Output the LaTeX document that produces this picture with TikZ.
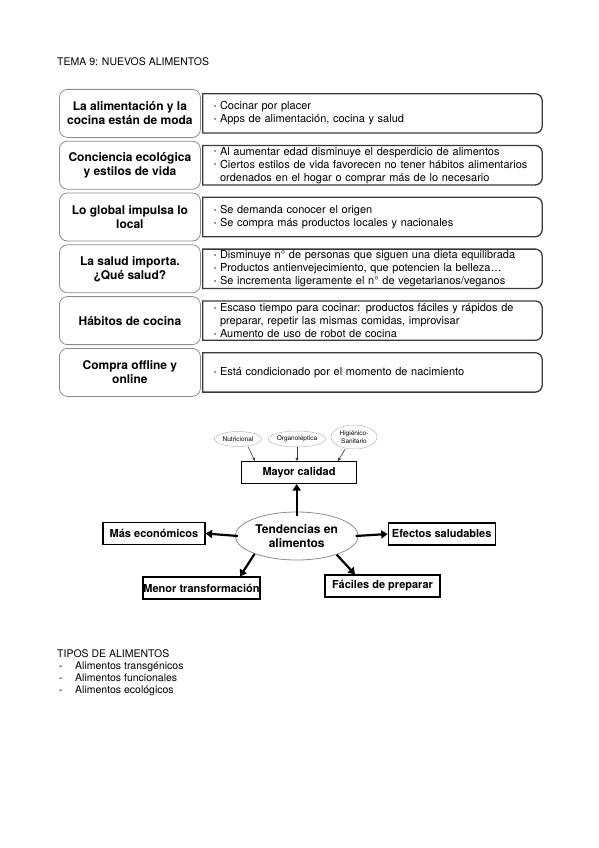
\documentclass[tikz,border=0pt]{standalone}
\usepackage{fontspec}
\setmainfont{TeX Gyre Heros}
\usepackage{xcolor}
\usepackage{tikz}
\usetikzlibrary{arrows.meta, positioning, shapes.geometric}

\definecolor{rowgray}{HTML}{8C8C8C}
\definecolor{rowdark}{HTML}{3A3A3A}
\definecolor{ovalgray}{HTML}{B8B8B8}

% small bullet and hanging indent for the detail lists
\newcommand{\itm}{\makebox[6pt][l]{\raisebox{0.2ex}{\fontsize{6}{6}\selectfont\textbullet}}}
\newcommand{\cont}{\hspace*{6pt}}
% detail frame: square on the left, rounded on the right
\newcommand{\detailframe}[1]{%
  \draw[frame] (#1.north west) -- ([xshift=-7pt]#1.north east)
    arc[start angle=90, end angle=0, radius=7pt] -- ([yshift=7pt]#1.south east)
    arc[start angle=0, end angle=-90, radius=7pt] -- (#1.south west) -- cycle;}

\begin{document}
\begin{tikzpicture}[
    x=1pt, y=-1pt,
    every node/.style={color=black, inner sep=0pt},
    plain/.style={font=\fontsize{10.5}{12}\selectfont, align=left},
    topic/.style={draw=rowgray, rectangle, rounded corners=8pt, fill=white, line width=0.8pt,
                  minimum width=141pt, minimum height=48pt, align=center,
                  font=\fontsize{12}{14}\selectfont\bfseries},
    detail/.style={rectangle, minimum height=39pt, text width=317pt, inner xsep=11pt,
                   align=left, font=\fontsize{11}{13}\selectfont},
    frame/.style={draw=rowdark, line width=1.3pt},
    hub/.style={draw=rowgray, ellipse, line width=0.8pt, minimum width=123pt, minimum height=48pt,
                align=center, font=\fontsize{12}{13.5}\selectfont\bfseries},
    trend/.style={draw, rectangle, line width=1.1pt, minimum height=22pt,
                  font=\fontsize{11}{13}\selectfont\bfseries},
    aspect/.style={draw=ovalgray, ellipse, line width=0.5pt, align=center,
                   font=\fontsize{6.5}{7.5}\selectfont},
    bigarrow/.style={-{Triangle[length=6.5pt, width=8pt]}, line width=2.2pt},
    smallarrow/.style={-{Triangle[length=3pt, width=3pt]}, line width=0.6pt, color=rowdark}
]
\useasboundingbox (0,0) rectangle (599,848);

% --- Header ---
\node[plain, anchor=west] (tema) at (57,62) {TEMA 9: NUEVOS ALIMENTOS};

% --- Table of trends (left topic, right details) ---
\node[topic, anchor=north west] (moda) at (59,89) {La alimentación y la\\cocina están de moda};
\node[topic, below=3pt of moda] (eco) {Conciencia ecológica\\y estilos de vida};
\node[topic, below=3pt of eco] (local) {Lo global impulsa lo\\local};
\node[topic, below=3pt of local] (salud) {La salud importa.\\¿Qué salud?};
\node[topic, below=3pt of salud] (habitos) {Hábitos de cocina};
\node[topic, below=3pt of habitos] (compra) {Compra offline y\\online};

\node[detail, right=2pt of moda] (modaD)
    {\itm Cocinar por placer\\\itm Apps de alimentación, cocina y salud};
\node[detail, right=2pt of eco] (ecoD)
    {\itm Al aumentar edad disminuye el desperdicio de alimentos\\
     \itm Ciertos estilos de vida favorecen no tener hábitos alimentarios\\
     \cont ordenados en el hogar o comprar más de lo necesario};
\node[detail, right=2pt of local] (localD)
    {\itm Se demanda conocer el origen\\\itm Se compra más productos locales y nacionales};
\node[detail, right=2pt of salud] (saludD)
    {\itm Disminuye n° de personas que siguen una dieta equilibrada\\
     \itm Productos antienvejecimiento, que potencien la belleza…\\
     \itm Se incrementa ligeramente el n° de vegetarianos/veganos};
\node[detail, right=2pt of habitos] (habitosD)
    {\itm Escaso tiempo para cocinar: productos fáciles y rápidos de\\
     \cont preparar, repetir las mismas comidas, improvisar\\
     \itm Aumento de uso de robot de cocina};
\node[detail, right=2pt of compra] (compraD)
    {\itm Está condicionado por el momento de nacimiento};

\detailframe{modaD}
\detailframe{ecoD}
\detailframe{localD}
\detailframe{saludD}
\detailframe{habitosD}
\detailframe{compraD}

% --- Trends map ---
\node[hub] (tend) at (296.7,536) {Tendencias en\\alimentos};
\node[trend, minimum width=115pt] (calidad) at (299,472.5) {Mayor calidad};
\node[trend, minimum width=102pt] (econ) at (154,533.5) {Más económicos};
\node[trend, minimum width=107pt] (efect) at (441.7,534) {Efectos saludables};
\node[trend, minimum width=117pt] (menor) at (201.5,588) {Menor transformación};
\node[trend, minimum width=115pt] (facil) at (382.5,586) {Fáciles de preparar};

% quality aspects
\node[aspect, minimum width=47pt, minimum height=15pt] (nutri) at (238,439) {Nutricional};
\node[aspect, minimum width=54pt, minimum height=16pt] (organo) at (297,439) {Organoléptica};
\node[aspect, minimum width=46pt, minimum height=24pt] (higien) at (354,437) {Higiénico-\\Sanitario};

\draw[smallarrow] ([xshift=10pt]nutri.south) -- ([xshift=14pt]calidad.north west);
\draw[smallarrow] (organo.south) -- (organo.south |- calidad.north);
\draw[smallarrow] ([xshift=-9pt]higien.south) -- ([xshift=-19pt]calidad.north east);

% thick arrows out of the hub
\draw[bigarrow] ([yshift=-4pt]tend.north) -- (tend.north |- calidad.south);
\draw[bigarrow] ([xshift=3pt]tend.west) -- (econ.east);
\draw[bigarrow] ([xshift=-3pt]tend.east) -- (efect.west);
\draw[bigarrow] (tend.203) -- ([xshift=38.5pt]menor.north);
\draw[bigarrow] (tend.335) -- ([xshift=-27.5pt]facil.north);

% --- Food types ---
\node[plain, anchor=north west] (tipos) at (57,649)
    {TIPOS DE ALIMENTOS\\
     \makebox[18pt][l]{\hspace{2pt}-}Alimentos transgénicos\\
     \makebox[18pt][l]{\hspace{2pt}-}Alimentos funcionales\\
     \makebox[18pt][l]{\hspace{2pt}-}Alimentos ecológicos};

\end{tikzpicture}
\end{document}
